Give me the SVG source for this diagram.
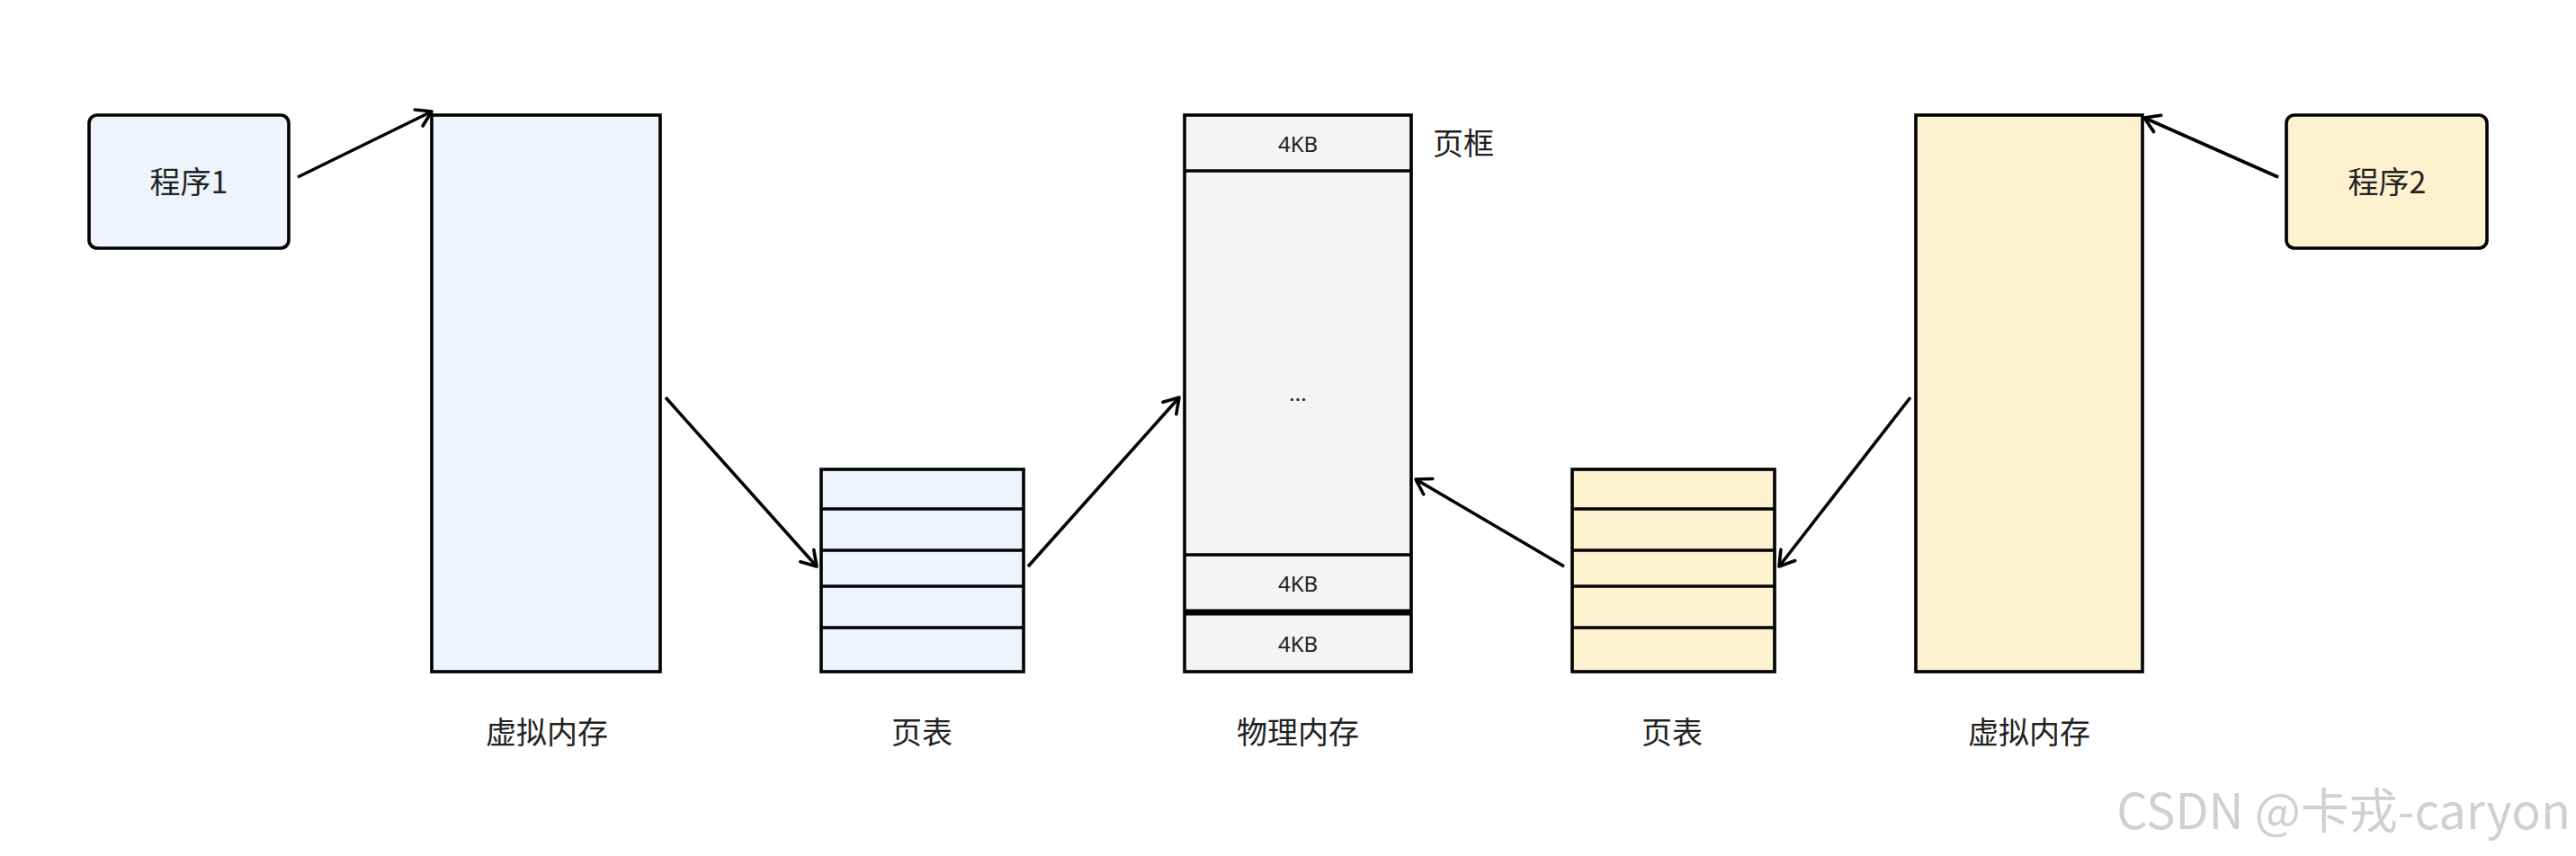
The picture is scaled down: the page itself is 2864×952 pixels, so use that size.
<svg xmlns="http://www.w3.org/2000/svg" width="2864" height="952" viewBox="0 0 2864 952">
<defs>
<style>
.b{stroke:#000;stroke-width:3.6}
.blue{fill:#eff4fc}.yel{fill:#fdf1cf}.gray{fill:#f4f4f4}
.t{font-family:"Noto Sans CJK SC","Noto Sans",sans-serif;font-size:34px;fill:#222;text-anchor:middle}
.s{font-family:"Noto Sans","Noto Sans CJK SC",sans-serif;font-size:24px;fill:#222;text-anchor:middle}
.c{stroke:#000;stroke-width:3.6;fill:none;marker-end:url(#a)}
</style>
<marker id="a" viewBox="-20 -20 40 40" refX="0" refY="0" markerWidth="40" markerHeight="40" orient="auto" markerUnits="userSpaceOnUse">
<path d="M-16,-10 L0,0 L-16,10" fill="none" stroke="#000" stroke-width="3.6" stroke-linecap="round" stroke-linejoin="round"/>
</marker>
</defs>
<rect width="2864" height="952" fill="#fff"/>
<g id="p1"><rect class="b blue" x="99" y="128" width="222" height="148" rx="9"/><text class="t" x="210" y="215">程序1</text></g>
<g id="vm1"><rect class="b blue" x="480" y="128" width="254" height="619"/><text class="t" x="608" y="827">虚拟内存</text></g>
<g id="pt1"><rect class="b blue" x="913" y="522" width="225" height="225"/>
<path class="b" d="M913,566H1138M913,612H1138M913,652H1138M913,698H1138"/><text class="t" x="1025" y="827">页表</text></g>
<g id="pm"><rect class="b gray" x="1317" y="128" width="252" height="619"/>
<path class="b" d="M1317,190H1569M1317,617H1569"/><path d="M1317,681H1569" stroke="#000" stroke-width="7"/>
<text class="s" x="1443" y="169">4KB</text><text class="s" x="1443" y="446">...</text><text class="s" x="1443" y="658">4KB</text><text class="s" x="1443" y="725">4KB</text>
<text class="t" x="1593" y="172" style="text-anchor:start">页框</text>
<text class="t" x="1443" y="827">物理内存</text></g>
<g id="pt2"><rect class="b yel" x="1748" y="522" width="225" height="225"/>
<path class="b" d="M1748,566H1973M1748,612H1973M1748,652H1973M1748,698H1973"/><text class="t" x="1859" y="827">页表</text></g>
<g id="vm2"><rect class="b yel" x="2130" y="128" width="252" height="619"/><text class="t" x="2256" y="827">虚拟内存</text></g>
<g id="p2"><rect class="b yel" x="2542" y="128" width="223" height="148" rx="9"/><text class="t" x="2654" y="215">程序2</text></g>
<g id="connectors">
<path class="c" d="M331,197L480,124"/>
<path class="c" d="M740,442L908,630"/>
<path class="c" d="M1143,630L1311,442"/>
<path class="c" d="M1739,630L1574,533"/>
<path class="c" d="M2124,442L1978,630"/>
<path class="c" d="M2533,197L2384,131"/>
</g>
<text x="2858" y="922" style="font-family:'Noto Sans CJK SC',sans-serif;font-size:54px;fill:#d0d0d0;text-anchor:end">CSDN @卡戎-caryon</text>
</svg>
